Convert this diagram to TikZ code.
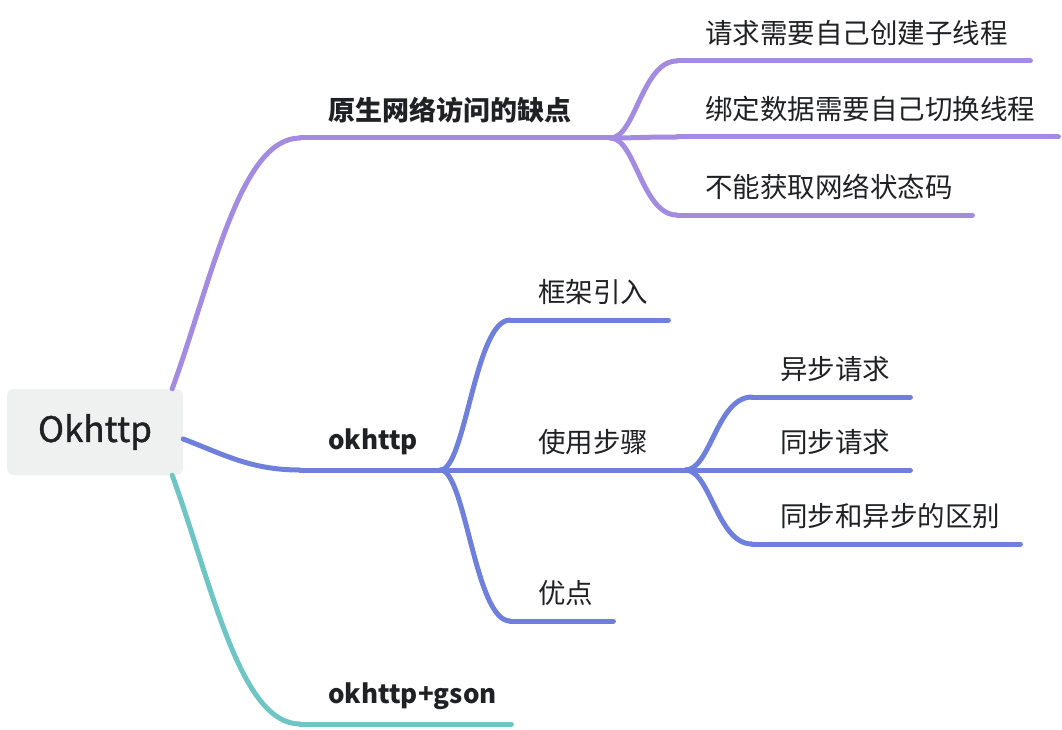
\documentclass[tikz,border=0pt]{standalone}
\usepackage{fontspec}
\setmainfont{Noto Sans CJK SC}
\newfontfamily\rootfont{Noto Sans CJK SC}[FakeBold=1.2]
\usetikzlibrary{positioning}
\definecolor{mapink}{RGB}{32,33,36}
\definecolor{mapgray}{RGB}{239,240,240}
\definecolor{mappurple}{RGB}{164,139,226}
\definecolor{mapblue}{RGB}{110,128,219}
\definecolor{mapteal}{RGB}{110,198,196}

\begin{document}
\begin{tikzpicture}[x=1pt, y=-1pt,
    topic/.style={anchor=south west, inner xsep=28pt, inner ysep=0pt, minimum height=56pt,
        align=left, text=mapink, font=\fontsize{27.5}{33}\selectfont},
    branch/.style={line width=5pt, line cap=round}]
    \useasboundingbox (0,0) rectangle (1062,730);

    \node[fill=mapgray, rounded corners=7pt, minimum width=176pt, minimum height=86pt,
        text=mapink, font=\rootfont\fontsize{35}{42}\selectfont] (root) at (95,432) {Okhttp};

    % first level
    \node[topic, text width=254pt, font=\bfseries\fontsize{27}{33}\selectfont] (yl) at (300,138) {原生网络访问的缺点};
    \node[topic, text width=84pt, font=\bfseries\fontsize{26}{33}\selectfont] (ok) at (300,470) {okhttp};
    \node[topic, text width=155pt, font=\bfseries\fontsize{26}{33}\selectfont] (gs) at (300,724) {okhttp+gson};

    % purple part
    \node[topic, text width=297pt] (q1) at (677,61) {请求需要自己创建子线程};
    \node[topic, text width=325pt] (q2) at (677,137) {绑定数据需要自己切换线程};
    \node[topic, text width=239pt] (q3) at (677,215) {不能获取网络状态码};

    % blue part
    \node[topic, text width=102pt] (kj) at (510,320) {框架引入};
    \node[topic, text width=119pt] (sy) at (510,470) {使用步骤};
    \node[topic, text width=47pt] (yd) at (510,621) {优点};
    \node[topic, text width=102pt] (yb) at (752,397) {异步请求};
    \node[topic, text width=102pt] (tb) at (752,470) {同步请求};
    \node[topic, text width=212pt] (qb) at (752,544) {同步和异步的区别};

    % connectors from root
    \draw[branch, mappurple] ([xshift=-11pt]root.north east) .. controls +(40,-110) and +(-60,0) .. (yl.south west);
    \draw[branch, mapblue] ([yshift=-7pt]root.east) .. controls +(40,15) and +(-50,0) .. (ok.south west);
    \draw[branch, mapteal] ([xshift=-11pt]root.south east) .. controls +(40,110) and +(-60,0) .. (gs.south west);

    % underlines
    \foreach \n in {yl,q1,q2,q3}
        \draw[branch, mappurple] (\n.south west) -- (\n.south east);
    \foreach \n in {ok,kj,sy,yd,yb,tb,qb}
        \draw[branch, mapblue] (\n.south west) -- (\n.south east);
    \draw[branch, mapteal] (gs.south west) -- (gs.south east);

    % sub branches
    \foreach \n in {q1,q2,q3}
        \draw[branch, mappurple] (yl.south east) .. controls +(25,0) and +(-35,0) .. (\n.south west);
    \foreach \n in {kj,sy,yd}
        \draw[branch, mapblue] (ok.south east) .. controls +(25,0) and +(-35,0) .. (\n.south west);
    \foreach \n in {yb,tb,qb}
        \draw[branch, mapblue] (sy.south east) .. controls +(25,0) and +(-35,0) .. (\n.south west);
\end{tikzpicture}
\end{document}
